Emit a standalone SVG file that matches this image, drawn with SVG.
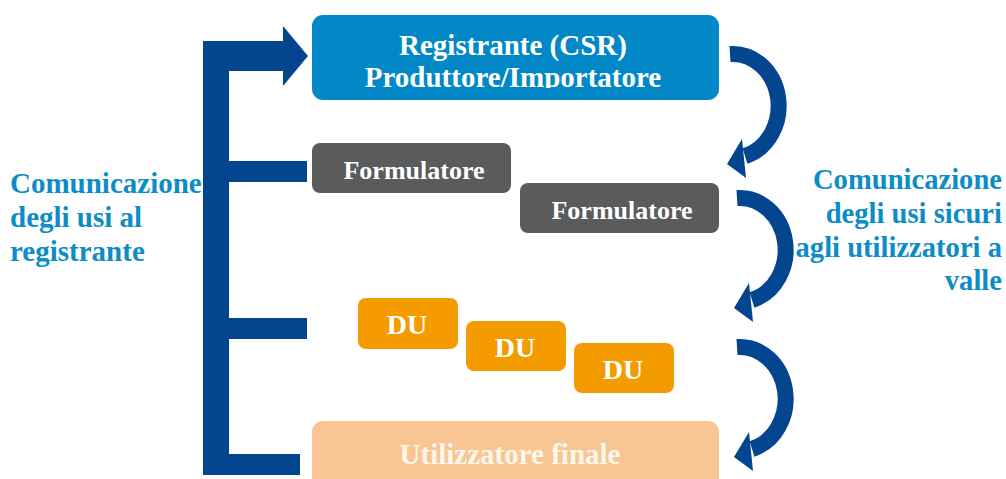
<svg xmlns="http://www.w3.org/2000/svg" width="1006" height="479" viewBox="0 0 1006 479">
  <style>
    .lbl { font-family: "Liberation Serif", "Times New Roman", serif; font-weight: bold; fill: #ffffff; text-anchor: middle; }
    .side { font-family: "Liberation Serif", "Times New Roman", serif; font-weight: bold; fill: #0D8CC6; font-size: 28.6px; }
    .bar { fill: #03458F; }
    .arc { fill: none; stroke: #03458F; stroke-width: 16; }
    .csr { fill: #0288C6; }
    .form { fill: #5A5B5D; }
    .du { fill: #F49B00; }
    .fin { fill: #F8C692; }
  </style>
  <defs>
    <clipPath id="clipLine2">
      <rect x="312" y="0" width="407" height="88"/>
    </clipPath>
    <!-- curved downward arrow, drawn at its top position -->
    <g id="turn">
      <path class="arc" d="M730 54 A46 52 0 0 1 745 156"/>
      <polygon class="bar" points="742,139 746,178 727,164"/>
    </g>
  </defs>

  <!-- connectors -->
  <g id="connectors">
    <!-- left feedback bracket with arrow into the registrant -->
    <rect class="bar" x="203" y="41" width="26" height="434"/>
    <rect class="bar" x="203" y="41" width="82" height="30"/>
    <polygon class="bar" points="283,26 308,56 283,86"/>
    <rect class="bar" x="203" y="161" width="104" height="21"/>
    <rect class="bar" x="203" y="318" width="104" height="21"/>
    <rect class="bar" x="203" y="454" width="97" height="21"/>
    <!-- downstream curved arrows -->
    <use href="#turn"/>
    <use href="#turn" transform="translate(7,144)"/>
    <use href="#turn" transform="translate(7,293)"/>
  </g>

  <g id="registrante">
    <rect class="csr" x="312" y="15" width="407" height="85" rx="11"/>
    <text class="lbl" x="513" y="55" font-size="29">Registrante (CSR)</text>
    <text class="lbl" x="513" y="87" font-size="29" clip-path="url(#clipLine2)">Produttore/Importatore</text>
  </g>

  <g id="formulatore1">
    <rect class="form" x="312" y="143" width="199" height="50" rx="8"/>
    <text class="lbl" x="414" y="179" font-size="26">Formulatore</text>
  </g>

  <g id="formulatore2">
    <rect class="form" x="520" y="183" width="199" height="50" rx="8"/>
    <text class="lbl" x="622" y="219" font-size="26">Formulatore</text>
  </g>

  <g id="du1">
    <rect class="du" x="358" y="298" width="100" height="51" rx="8"/>
    <text class="lbl" x="407" y="334" font-size="28">DU</text>
  </g>

  <g id="du2">
    <rect class="du" x="466" y="321" width="100" height="50" rx="8"/>
    <text class="lbl" x="515" y="357" font-size="28">DU</text>
  </g>

  <g id="du3">
    <rect class="du" x="574" y="343" width="100" height="50" rx="8"/>
    <text class="lbl" x="623" y="379" font-size="28">DU</text>
  </g>

  <g id="utilizzatore">
    <rect class="fin" x="312" y="421" width="407" height="80" rx="11"/>
    <text class="lbl" x="510" y="464" font-size="29" style="fill:#FFF6EC">Utilizzatore finale</text>
  </g>

  <g id="nota-sinistra">
    <text class="side" x="10" y="193" style="font-size:29px">Comunicazione</text>
    <text class="side" x="10" y="227" style="font-size:29px">degli usi al</text>
    <text class="side" x="10" y="261" style="font-size:29px">registrante</text>
  </g>

  <g id="nota-destra" text-anchor="end">
    <text class="side" x="1002" y="189">Comunicazione</text>
    <text class="side" x="1002" y="223">degli usi sicuri</text>
    <text class="side" x="1002" y="257">agli utilizzatori a</text>
    <text class="side" x="1002" y="290">valle</text>
  </g>
</svg>
